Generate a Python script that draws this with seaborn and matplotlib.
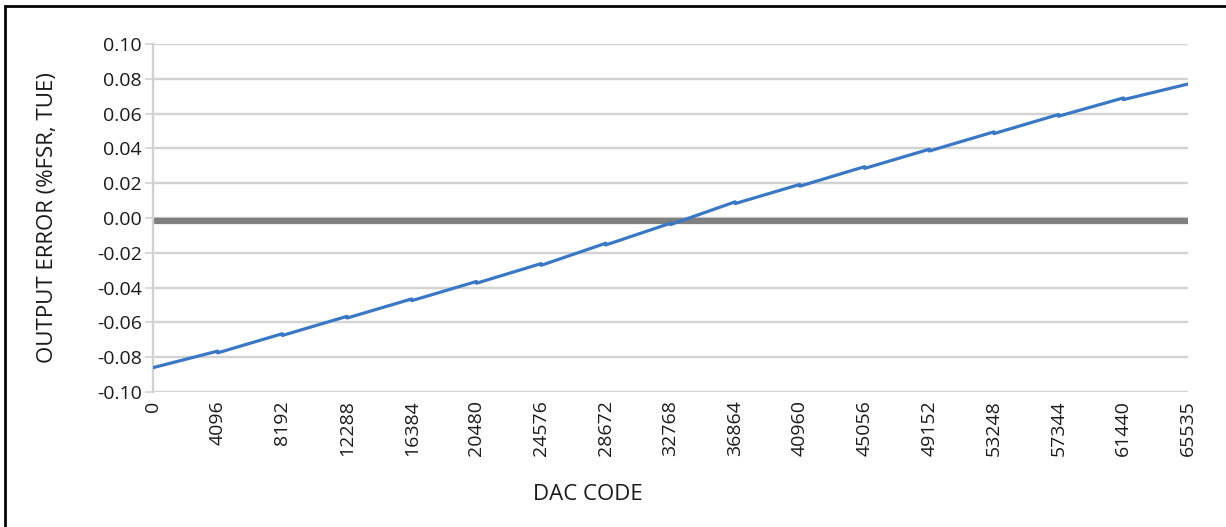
import pandas as pd
import seaborn as sns
import matplotlib.pyplot as plt
from matplotlib.patches import Rectangle

# DAC code vs output error (small step at every 4096 codes)
dac_code = [0, 4095, 4096, 8191, 8192, 12287, 12288, 16383, 16384, 20479, 20480,
            24575, 24576, 28671, 28672, 32767, 32768, 36863, 36864, 40959, 40960,
            45055, 45056, 49151, 49152, 53247, 53248, 57343, 57344, 61439, 61440, 65535]
output_error = [-0.0860, -0.0765, -0.0775, -0.0665, -0.0675, -0.0565, -0.0575,
                -0.0465, -0.0475, -0.0365, -0.0375, -0.0262, -0.0272, -0.0145,
                -0.0155, -0.0030, -0.0038, 0.0093, 0.0083, 0.0193, 0.0183,
                0.0295, 0.0285, 0.0395, 0.0385, 0.0495, 0.0485, 0.0595, 0.0585,
                0.0690, 0.0680, 0.0770]
x_ticks = [0, 4096, 8192, 12288, 16384, 20480, 24576, 28672, 32768, 36864,
           40960, 45056, 49152, 53248, 57344, 61440, 65535]
y_ticks = [-0.10, -0.08, -0.06, -0.04, -0.02, 0.00, 0.02, 0.04, 0.06, 0.08, 0.10]
zero_ref = -0.002

df = pd.DataFrame({'DAC CODE': dac_code, 'ERROR': output_error})

sns.set_theme(style='white')
plt.rcParams['font.family'] = ['Open Sans', 'DejaVu Sans']

fig = plt.figure(figsize=(12.26, 5.27), dpi=100)
ax = fig.add_axes([153 / 1226, 1 - 392 / 527, (1188 - 153) / 1226, (392 - 44) / 527])

# light grid + thick reference line near zero
for v in y_ticks:
    ax.axhline(v, color='#d2d2d2', linewidth=1.7, zorder=0)
ax.axhline(zero_ref, color='#7f7f7f', linewidth=4.5, zorder=1)

sns.lineplot(data=df, x='DAC CODE', y='ERROR', ax=ax, color='#3a78c6', linewidth=2.3, zorder=3)

ax.set_xlim(0, 65535)
ax.set_ylim(-0.10, 0.10)
ax.set_xticks(x_ticks)
ax.set_xticklabels([str(t) for t in x_ticks], rotation=90, fontsize=14, color='#1a1a1a')
ax.set_yticks(y_ticks)
ax.set_yticklabels([f'{t:.2f}' for t in y_ticks], fontsize=14, color='#1a1a1a')
ax.tick_params(axis='x', length=0, pad=6)
ax.tick_params(axis='y', length=6, width=1.2, color='#d2d2d2', pad=2, left=True)

for side in ['top', 'right', 'bottom']:
    ax.spines[side].set_visible(False)
ax.spines['left'].set_color('#d2d2d2')
ax.spines['left'].set_linewidth(1.7)

ax.set_xlabel('DAC CODE', fontsize=16, color='#1a1a1a')
ax.set_ylabel('OUTPUT ERROR (%FSR, TUE)', fontsize=16, color='#1a1a1a')
ax.xaxis.set_label_coords((588 - 153) / (1188 - 153), -(484 - 392) / (392 - 44))
ax.yaxis.set_label_coords(-(153 - 58) / (1188 - 153), 0.5)

# frame of the cropped chart area (left and top edges visible)
fig.patches.append(Rectangle((5 / 1226, -0.1), 1.2, 1 - 6 / 527 + 0.1, transform=fig.transFigure,
                             fill=False, edgecolor='black', linewidth=2, zorder=10))

fig.savefig('out.png', dpi=100)
